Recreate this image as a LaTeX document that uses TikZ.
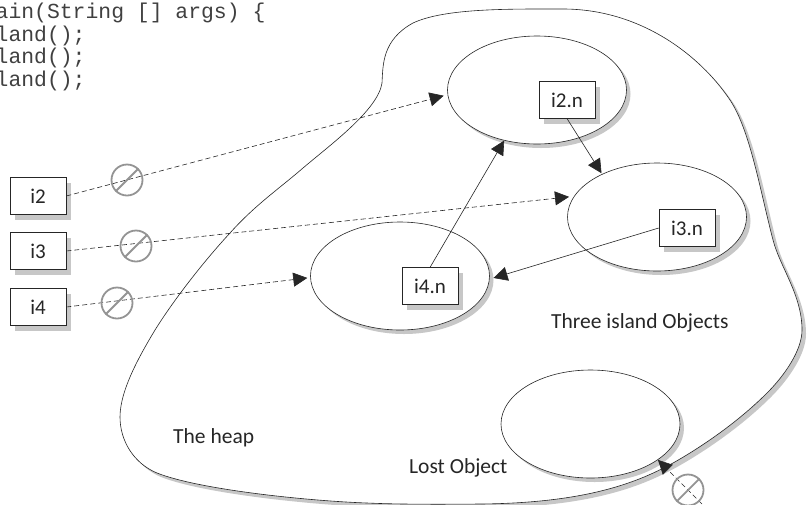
\documentclass[tikz,border=0pt]{standalone}
\usepackage{fontspec}
\setmainfont{Carlito}
\setmonofont{Liberation Mono}
\usetikzlibrary{arrows.meta,positioning,shapes.geometric}
\definecolor{shadowgray}{gray}{0.78}
\definecolor{crossgray}{gray}{0.58}
\tikzset{
	objbox/.style={draw=black!85, fill=white, line width=0.6pt, minimum width=56pt, minimum height=36.5pt, inner sep=0pt, text=black!85, font=\fontsize{21}{23}\selectfont},
	islandell/.style={draw=black!85, fill=white, line width=0.6pt, ellipse, minimum width=179pt, minimum height=108pt, inner sep=0pt},
	refline/.style={-{Triangle[length=14pt,width=14pt]}, line width=0.6pt, black!85},
	deadref/.style={refline, dash pattern=on 5pt off 3pt},
	nogo/.style={draw=crossgray, line width=1.8pt, circle, minimum size=31pt, inner sep=0pt},
	plain/.style={font=\fontsize{21.5}{23}\selectfont, text=black!85, inner sep=0pt, anchor=base west}
}
\newcommand{\heapcurve}{(382,83) .. controls (383,65) and (382,40) .. (413,23) .. controls (445,8) and (510,9) .. (563,9) .. controls (640,9) and (700,55) .. (730,100) .. controls (750,130) and (760,190) .. (773,240) .. controls (780,267) and (802,295) .. (802,330) .. controls (802,350) and (785,375) .. (767,393) .. controls (740,420) and (705,445) .. (673,463) .. controls (640,481) and (590,503) .. (480,504) .. controls (420,504.5) and (390,504) .. (367,503) .. controls (310,501) and (200,490) .. (157,473) .. controls (133,463) and (120,440) .. (120,417) .. controls (120,390) and (140,355) .. (155,330) .. controls (175,298) and (205,260) .. (230,233) .. controls (255,205) and (280,188) .. (303,168) .. controls (330,145) and (378,110) .. (382,83) -- cycle}
\begin{document}
\begin{tikzpicture}[x=1pt,y=-1pt]
	\useasboundingbox (0,0) rectangle (810,504);

	% the heap
	\begin{scope}[shift={(4,4)}]
		\fill[shadowgray] \heapcurve;
	\end{scope}
	\draw[black!85, fill=white, line width=0.6pt] \heapcurve;

	% code
	\node(codetxt) [anchor=north west, inner sep=0pt, align=left, text=black!75, font=\ttfamily\fontsize{21.4}{22.5}\selectfont] at (-4.5,3)
	{ain(String [] args) \{\\land();\\land();\\land();};

	% islands
	\foreach \name/\cx/\cy in {elltwo/537/90,ellthree/657/217,ellfour/400/276,elllost/590.5/424} {
		\fill[shadowgray] (\cx+4,\cy+4) ellipse [x radius=89.5pt, y radius=54pt];
		\node(\name) [islandell] at (\cx,\cy) {};
	}

	% boxes
	\foreach \name/\cx/\cy/\txt in {boxtwo/38/196/i2,boxthree/38/251/i3,boxfour/38/307/i4,ntwo/567/100/i2.n,nthree/687/228/i3.n,nfour/430/286/i4.n} {
		\fill[shadowgray] (\cx-23,\cy-13) rectangle (\cx+33,\cy+23.5);
		\node(\name) [objbox] at (\cx,\cy) {\txt};
	}

	% labels
	\node(threelbl) [plain] at (551,328) {Three island Objects};
	\node(heaplbl) [plain] at (173,443) {The heap};
	\node(lostlbl) [plain] at (409,473) {Lost Object};

	% free end of the lost reference
	\coordinate (lostend) at (702,504);

	% dead references
	\draw[deadref, shorten >=4pt] (boxtwo.east) -- (elltwo.183);
	\draw[deadref, shorten >=5pt] (boxthree.east) -- (ellthree.166);
	\draw[deadref, shorten >=3pt] (boxfour.east) -- (ellfour.181);
	\draw[deadref] (lostend) -- (elllost.-28);

	% live references
	\draw[refline, shorten >=1pt] (ntwo.south) -- (ellthree.142);
	\draw[refline, shorten >=4pt] (nthree.west) -- (ellfour.-2);
	\draw[refline] (nfour.north) -- (elltwo.-123);

	% crossed out
	\foreach \name/\cx/\cy in {nogotwo/127/180,nogothree/136/246,nogofour/117/303,nogolost/688/490} {
		\node(\name) [nogo] at (\cx,\cy) {};
		\draw[crossgray, line width=1.8pt] (\name.225) -- (\name.45);
	}
\end{tikzpicture}
\end{document}
